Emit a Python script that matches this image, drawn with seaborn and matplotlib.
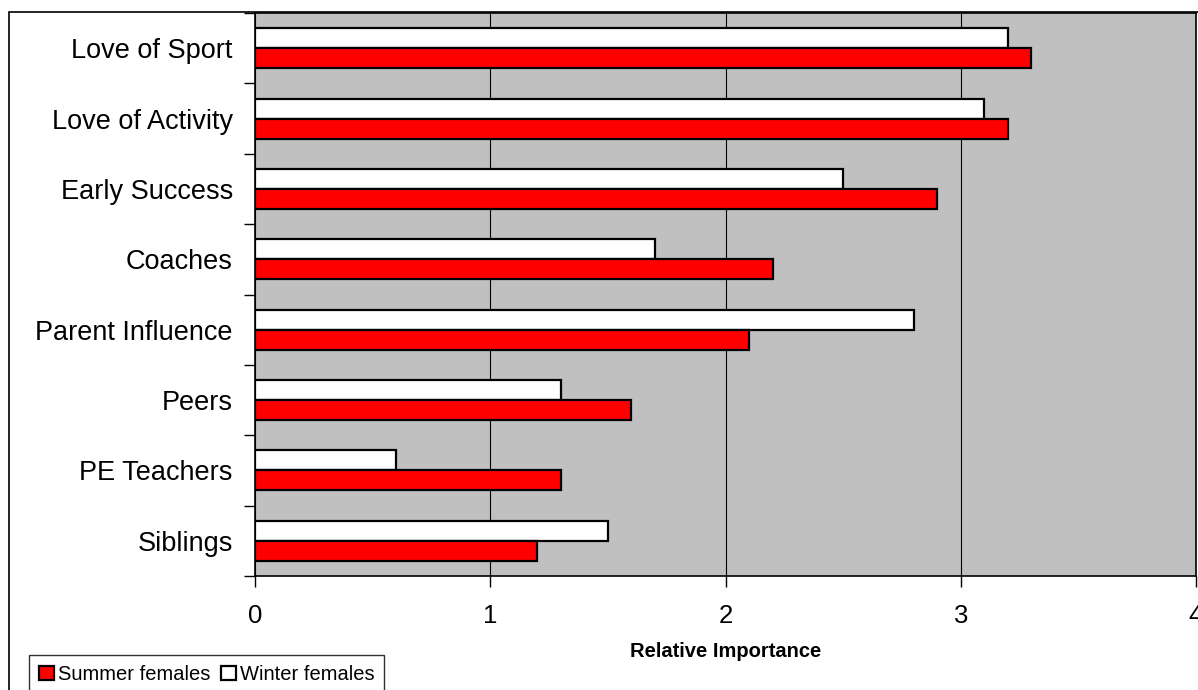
import numpy as np
import pandas as pd
import matplotlib.pyplot as plt
from matplotlib.patches import Patch, Rectangle
import seaborn as sns

# data
categories = ['Love of Sport', 'Love of Activity', 'Early Success', 'Coaches',
              'Parent Influence', 'Peers', 'PE Teachers', 'Siblings']
summer_females = [3.3, 3.2, 2.9, 2.2, 2.1, 1.6, 1.3, 1.2]
winter_females = [3.2, 3.1, 2.5, 1.7, 2.8, 1.3, 0.6, 1.5]
x_ticks = [0, 1, 2, 3, 4]

df = pd.DataFrame({
    'Factor': categories * 2,
    'Value': winter_females + summer_females,
    'Group': ['Winter females'] * len(categories) + ['Summer females'] * len(categories),
})

sns.set_style('white')
plt.rcParams['font.family'] = ['Liberation Sans', 'DejaVu Sans']
plt.rcParams['text.color'] = 'black'
plt.rcParams['xtick.color'] = 'black'
plt.rcParams['ytick.color'] = 'black'
plt.rcParams['axes.labelcolor'] = 'black'

fig = plt.figure(figsize=(11.98, 6.9), dpi=100)
ax = fig.add_axes([255 / 1198, 1 - 576 / 690, 941 / 1198, 563 / 690])
ax.set_facecolor('#C0C0C0')

sns.barplot(data=df, y='Factor', x='Value', hue='Group', orient='h',
            order=categories, hue_order=['Winter females', 'Summer females'],
            palette={'Winter females': 'white', 'Summer females': '#FF0000'},
            edgecolor='black', linewidth=1.6, width=0.57, saturation=1,
            legend=False, ax=ax)

ax.set_xlim(0, 4)
ax.set_ylim(len(categories) - 0.5, -0.5)
ax.set_xticks(x_ticks)
ax.xaxis.grid(True, color='black', linewidth=0.8)
ax.set_axisbelow(True)

# category ticks sit between the groups
ax.set_yticks(np.arange(-0.5, len(categories), 1), minor=True)
ax.tick_params(axis='y', which='major', length=0, pad=16, labelsize=19.5)
ax.tick_params(axis='y', which='minor', length=8, width=1, color='black', direction='out', left=True)
ax.tick_params(axis='x', which='major', length=8, width=1, color='black', direction='out',
               bottom=True, pad=12, labelsize=18.5)

for s in ax.spines.values():
    s.set_color('black')
    s.set_linewidth(1.2)

ax.set_ylabel('')
ax.set_xlabel('Relative Importance', fontsize=14.5, fontweight='bold', labelpad=10)

handles = [Patch(facecolor='#FF0000', edgecolor='black', linewidth=1.6, label='Summer females'),
           Patch(facecolor='white', edgecolor='black', linewidth=1.6, label='Winter females')]
leg = fig.legend(handles=handles, loc='upper left', bbox_to_anchor=(29 / 1198, 1 - 655 / 690),
                 ncol=2, fontsize=14.5, frameon=True, fancybox=False, handlelength=0.75,
                 handleheight=0.75, handletextpad=0.2, columnspacing=0.5,
                 borderpad=0.5, borderaxespad=0)
leg.get_frame().set_edgecolor('black')
leg.get_frame().set_linewidth(1)

# outer chart border
fig.patches.append(Rectangle((9 / 1198, -0.05), 1.1, 1 - 12 / 690 + 0.05,
                             transform=fig.transFigure, fill=False,
                             edgecolor='black', linewidth=1.2))

fig.savefig('out.png', dpi=100)
